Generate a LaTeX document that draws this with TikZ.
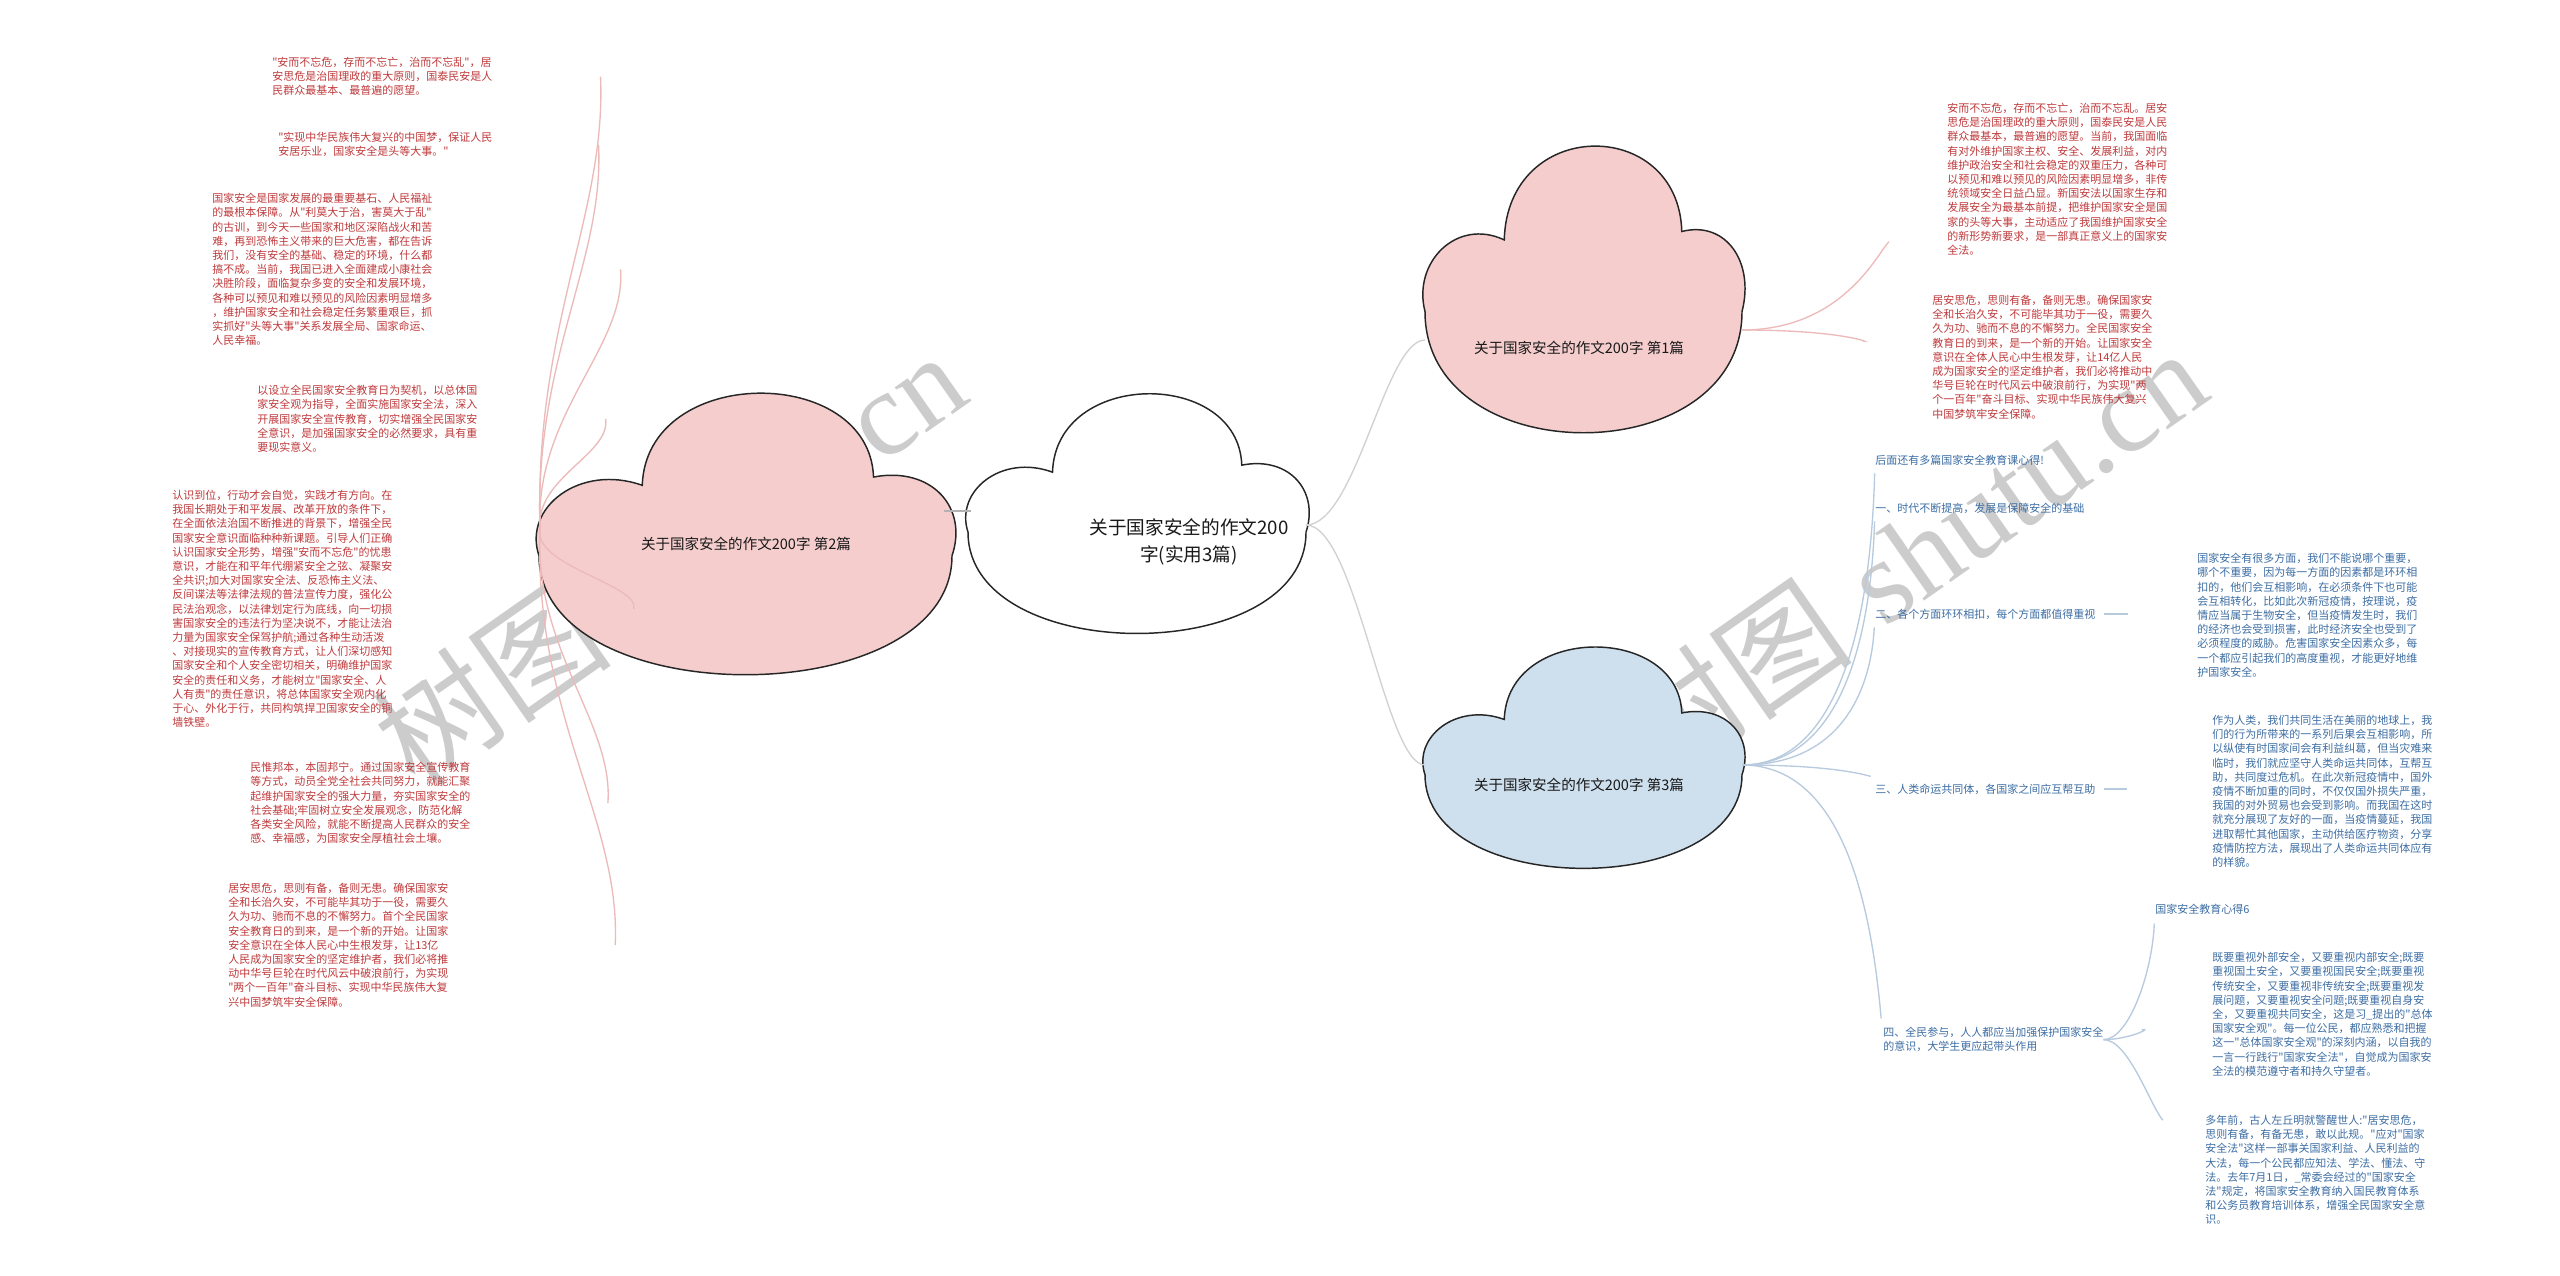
\documentclass[tikz,border=0pt]{standalone}
\usepackage{fontspec}
\newfontfamily\cjkf{Noto Sans CJK SC}
\newfontfamily\wmserif{Liberation Serif}
\newfontfamily\wmsans{Noto Sans CJK SC}
\definecolor{txtred}{HTML}{BF3A3C}
\definecolor{txtblue}{HTML}{3D6EA4}
\definecolor{pinkfill}{HTML}{F5CDCD}
\definecolor{bluefill}{HTML}{CEDFEE}
\definecolor{pinkline}{HTML}{EDBABA}
\definecolor{blueline}{HTML}{B8CADE}
\newcommand\mycloud[5]{%
  \begin{scope}[shift={(#1,#2)},xscale=#3,yscale=#4]
    \draw[cloudline,fill=#5] (-1,0.15) .. controls (-1,1.3) and (1,1.3) .. (1,0.15)
      .. controls (1.08,-0.2) and (0.9,-0.5) .. (0.62,-0.42)
      .. controls (0.6,-1.24) and (-0.48,-1.24) .. (-0.5,-0.36)
      .. controls (-0.8,-0.52) and (-1.08,-0.2) .. (-1,0.15) -- cycle;
  \end{scope}}
\begin{document}
\begin{tikzpicture}[x=0.75pt,y=-0.75pt,
  cloudline/.style={draw=black!85,line width=1.1pt},
  cloudtxt/.style={font=\cjkf\fontsize{10.9}{14}\selectfont,text=black!90,inner sep=0,align=center},
  bigtxt/.style={font=\cjkf\fontsize{14}{20}\selectfont,text=black!90,inner sep=0,align=center},
  redtxt/.style={anchor=north west,align=left,inner sep=0,text=txtred,font=\cjkf\fontsize{8.25}{10.65}\selectfont},
  bluetxt/.style={anchor=north west,align=left,inner sep=0,text=txtblue,font=\cjkf\fontsize{8.25}{10.65}\selectfont},
  bluelab/.style={anchor=west,align=left,inner sep=0,text=txtblue,font=\cjkf\fontsize{8.25}{10.65}\selectfont},
  lconn/.style={draw=pinkline,line width=1pt},
  bconn/.style={draw=blueline,line width=1pt},
  wm/.style={text=black,opacity=0.2,inner sep=0,font=\fontsize{90}{92}\selectfont}]
\useasboundingbox[fill=white] (0,0) rectangle (2560,1276);

% watermarks
\node[wm,rotate=35] (wm1) at (669,558) {{\wmsans 树图} {\wmserif shutu.cn}};
\node[wm,rotate=35] (wm2) at (1910,555) {{\wmsans 树图} {\wmserif shutu.cn}};

% clouds
\mycloud{1137}{514.5}{169}{117.5}{white}
\mycloud{745.5}{535}{206.5}{138}{pinkfill}
\mycloud{1583.5}{290.5}{158.5}{140.5}{pinkfill}
\mycloud{1583.5}{758.5}{158.5}{108.5}{bluefill}

\node[bigtxt] (cC) at (1189,542) {关于国家安全的作文200\\字(实用3篇)};
\node[cloudtxt] (c2) at (746,544) {关于国家安全的作文200字 第2篇};
\node[cloudtxt] (c1) at (1579,348) {关于国家安全的作文200字 第1篇};
\node[cloudtxt] (c3) at (1579,785) {关于国家安全的作文200字 第3篇};

\coordinate (cCw) at (971,511);
\coordinate (cCe) at (1306,525);
\coordinate (c2e) at (944,511);
\coordinate (c2w) at (540,530);
\coordinate (c1w) at (1425,340);
\coordinate (c1e) at (1742,330);
\coordinate (c3w) at (1425,765);
\coordinate (c3e) at (1742,765);

% left texts
\node[redtxt,text width=246] (L1) at (272,57) {"安而不忘危，存而不忘亡，治而不忘乱"，居\\安思危是治国理政的重大原则，国泰民安是人\\民群众最基本、最普遍的愿望。};
\node[redtxt,text width=240] (L2) at (278,132) {"实现中华民族伟大复兴的中国梦，保证人民\\安居乐业，国家安全是头等大事。"};
\node[redtxt,text width=306] (L3) at (212,193) {国家安全是国家发展的最重要基石、人民福祉\\的最根本保障。从"利莫大于治，害莫大于乱"\\的古训，到今天一些国家和地区深陷战火和苦\\难，再到恐怖主义带来的巨大危害，都在告诉\\我们，没有安全的基础、稳定的环境，什么都\\搞不成。当前，我国已进入全面建成小康社会\\决胜阶段，面临复杂多变的安全和发展环境，\\各种可以预见和难以预见的风险因素明显增多\\，维护国家安全和社会稳定任务繁重艰巨，抓\\实抓好"头等大事"关系发展全局、国家命运、\\人民幸福。};
\node[redtxt,text width=261] (L4) at (257,385) {以设立全民国家安全教育日为契机，以总体国\\家安全观为指导，全面实施国家安全法，深入\\开展国家安全宣传教育，切实增强全民国家安\\全意识，是加强国家安全的必然要求，具有重\\要现实意义。};
\node[redtxt,text width=346] (L5) at (172,490) {认识到位，行动才会自觉，实践才有方向。在\\我国长期处于和平发展、改革开放的条件下，\\在全面依法治国不断推进的背景下，增强全民\\国家安全意识面临种种新课题。引导人们正确\\认识国家安全形势，增强"安而不忘危"的忧患\\意识，才能在和平年代绷紧安全之弦、凝聚安\\全共识;加大对国家安全法、反恐怖主义法、\\反间谍法等法律法规的普法宣传力度，强化公\\民法治观念，以法律划定行为底线，向一切损\\害国家安全的违法行为坚决说不，才能让法治\\力量为国家安全保驾护航;通过各种生动活泼\\、对接现实的宣传教育方式，让人们深切感知\\国家安全和个人安全密切相关，明确维护国家\\安全的责任和义务，才能树立"国家安全、人\\人有责"的责任意识，将总体国家安全观内化\\于心、外化于行，共同构筑捍卫国家安全的铜\\墙铁壁。};
\node[redtxt,text width=268] (L6) at (250,762) {民惟邦本，本固邦宁。通过国家安全宣传教育\\等方式，动员全党全社会共同努力，就能汇聚\\起维护国家安全的强大力量，夯实国家安全的\\社会基础;牢固树立安全发展观念，防范化解\\各类安全风险，就能不断提高人民群众的安全\\感、幸福感，为国家安全厚植社会土壤。};
\node[redtxt,text width=290] (L7) at (228,883) {居安思危，思则有备，备则无患。确保国家安\\全和长治久安，不可能毕其功于一役，需要久\\久为功、驰而不息的不懈努力。首个全民国家\\安全教育日的到来，是一个新的开始。让国家\\安全意识在全体人民心中生根发芽，让13亿\\人民成为国家安全的坚定维护者，我们必将推\\动中华号巨轮在时代风云中破浪前行，为实现\\"两个一百年"奋斗目标、实现中华民族伟大复\\兴中国梦筑牢安全保障。};

% right top texts
\node[redtxt] (R1) at (1947,103) {安而不忘危，存而不忘亡，治而不忘乱。居安\\思危是治国理政的重大原则，国泰民安是人民\\群众最基本，最普遍的愿望。当前，我国面临\\有对外维护国家主权、安全、发展利益，对内\\维护政治安全和社会稳定的双重压力，各种可\\以预见和难以预见的风险因素明显增多，非传\\统领域安全日益凸显。新国安法以国家生存和\\发展安全为最基本前提，把维护国家安全是国\\家的头等大事，主动适应了我国维护国家安全\\的新形势新要求，是一部真正意义上的国家安\\全法。};
\node[redtxt] (R2) at (1932,295) {居安思危，思则有备，备则无患。确保国家安\\全和长治久安，不可能毕其功于一役，需要久\\久为功、驰而不息的不懈努力。全民国家安全\\教育日的到来，是一个新的开始。让国家安全\\意识在全体人民心中生根发芽，让14亿人民\\成为国家安全的坚定维护者，我们必将推动中\\华号巨轮在时代风云中破浪前行，为实现"两\\个一百年"奋斗目标、实现中华民族伟大复兴\\中国梦筑牢安全保障。};

% right bottom labels
\node[bluelab] (B0) at (1875,460) {后面还有多篇国家安全教育课心得!};
\node[bluelab] (B1) at (1875,508) {一、时代不断提高，发展是保障安全的基础};
\node[bluelab] (B2) at (1875,614) {二、各个方面环环相扣，每个方面都值得重视};
\node[bluelab] (B3) at (1875,789) {三、人类命运共同体，各国家之间应互帮互助};
\node[bluetxt] (B4) at (1883,1027) {四、全民参与，人人都应当加强保护国家安全\\的意识，大学生更应起带头作用};

\node[bluetxt] (B2a) at (2197,553) {国家安全有很多方面，我们不能说哪个重要，\\哪个不重要，因为每一方面的因素都是环环相\\扣的，他们会互相影响，在必须条件下也可能\\会互相转化，比如此次新冠疫情，按理说，疫\\情应当属于生物安全，但当疫情发生时，我们\\的经济也会受到损害，此时经济安全也受到了\\必须程度的威胁。危害国家安全因素众多，每\\一个都应引起我们的高度重视，才能更好地维\\护国家安全。};
\node[bluetxt] (B3a) at (2212,715) {作为人类，我们共同生活在美丽的地球上，我\\们的行为所带来的一系列后果会互相影响，所\\以纵使有时国家间会有利益纠葛，但当灾难来\\临时，我们就应坚守人类命运共同体，互帮互\\助，共同度过危机。在此次新冠疫情中，国外\\疫情不断加重的同时，不仅仅国外损失严重，\\我国的对外贸易也会受到影响。而我国在这时\\就充分展现了友好的一面，当疫情蔓延，我国\\进取帮忙其他国家，主动供给医疗物资，分享\\疫情防控方法，展现出了人类命运共同体应有\\的样貌。};
\node[bluelab] (B4a) at (2155,909) {国家安全教育心得6};
\node[bluetxt] (B4b) at (2212,952) {既要重视外部安全，又要重视内部安全;既要\\重视国土安全，又要重视国民安全;既要重视\\传统安全，又要重视非传统安全;既要重视发\\展问题，又要重视安全问题;既要重视自身安\\全，又要重视共同安全，这是习\_提出的"总体\\国家安全观"。每一位公民，都应熟悉和把握\\这一"总体国家安全观"的深刻内涵，以自我的\\一言一行践行"国家安全法"，自觉成为国家安\\全法的模范遵守者和持久守望者。};
\node[bluetxt] (B4c) at (2205,1115) {多年前，古人左丘明就警醒世人:"居安思危，\\思则有备，有备无患，敢以此规。"应对"国家\\安全法"这样一部事关国家利益、人民利益的\\大法，每一个公民都应知法、学法、懂法、守\\法。去年7月1日，\_常委会经过的"国家安全\\法"规定，将国家安全教育纳入国民教育体系\\和公务员教育培训体系，增强全民国家安全意\\识。};

% connectors: centre
\draw[draw=black!30,line width=1pt] (cCw) -- (c2e);
\draw[draw=black!18,line width=1pt] (cCe) .. controls +(50,0) and +(-40,0) .. (c1w);
\draw[draw=black!18,line width=1pt] (cCe) .. controls +(50,0) and +(-40,0) .. (c3w);

% connectors: left
\draw[lconn] (c2w) .. controls +(-6,-205) and +(6,137) .. (L1.east);
\draw[lconn] (c2w) .. controls +(-6,-173) and +(6,116) .. (L2.east);
\draw[lconn] (c2w) .. controls +(-6,-117) and +(6,78) .. (L3.east);
\draw[lconn] (c2w) .. controls +(-6,-52) and +(6,35) .. (L4.east);
\draw[lconn] (c2w) .. controls +(-6,36) and +(6,-24) .. (L5.east);
\draw[lconn] (c2w) .. controls +(-6,121) and +(6,-80) .. (L6.east);
\draw[lconn] (c2w) .. controls +(-6,187) and +(6,-125) .. (L7.east);

% connectors: right top
\draw[lconn,shorten >=64pt] (c1e) .. controls +(100,0) and +(-70,75) .. (R1.west);
\draw[lconn,shorten >=53pt] (c1e) .. controls +(100,0) and +(-60,-14) .. (R2.west);

% connectors: right bottom
\draw[bconn,shorten >=10pt] (c3e) .. controls +(100,0) and +(-4,152) .. (B0.west);
\draw[bconn,shorten >=10pt] (c3e) .. controls +(100,0) and +(-4,128) .. (B1.west);
\draw[bconn,shorten >=10pt] (c3e) .. controls +(100,0) and +(-4,75) .. (B2.west);
\draw[bconn,shorten >=10pt] (c3e) .. controls +(100,0) and +(-4,-12) .. (B3.west);
\draw[bconn,shorten >=16pt] (c3e) .. controls +(100,0) and +(-12,-137) .. (B4.west);
\draw[bconn,shorten <=6pt,shorten >=52pt] (B2.east) -- (B2a.west |- B2.east);
\draw[bconn,shorten <=6pt,shorten >=64pt] (B3.east) -- (B3a.west |- B3.east);
\draw[bconn,shorten >=11pt] (B4.east) .. controls +(25,0) and +(-3,65) .. (B4a.west);
\draw[bconn,shorten >=54pt] (B4.east) .. controls +(25,0) and +(-58,13) .. (B4b.west);
\draw[bconn,shorten >=49pt] (B4.east) .. controls +(25,0) and +(-55,-65) .. (B4c.west);
\end{tikzpicture}
\end{document}
